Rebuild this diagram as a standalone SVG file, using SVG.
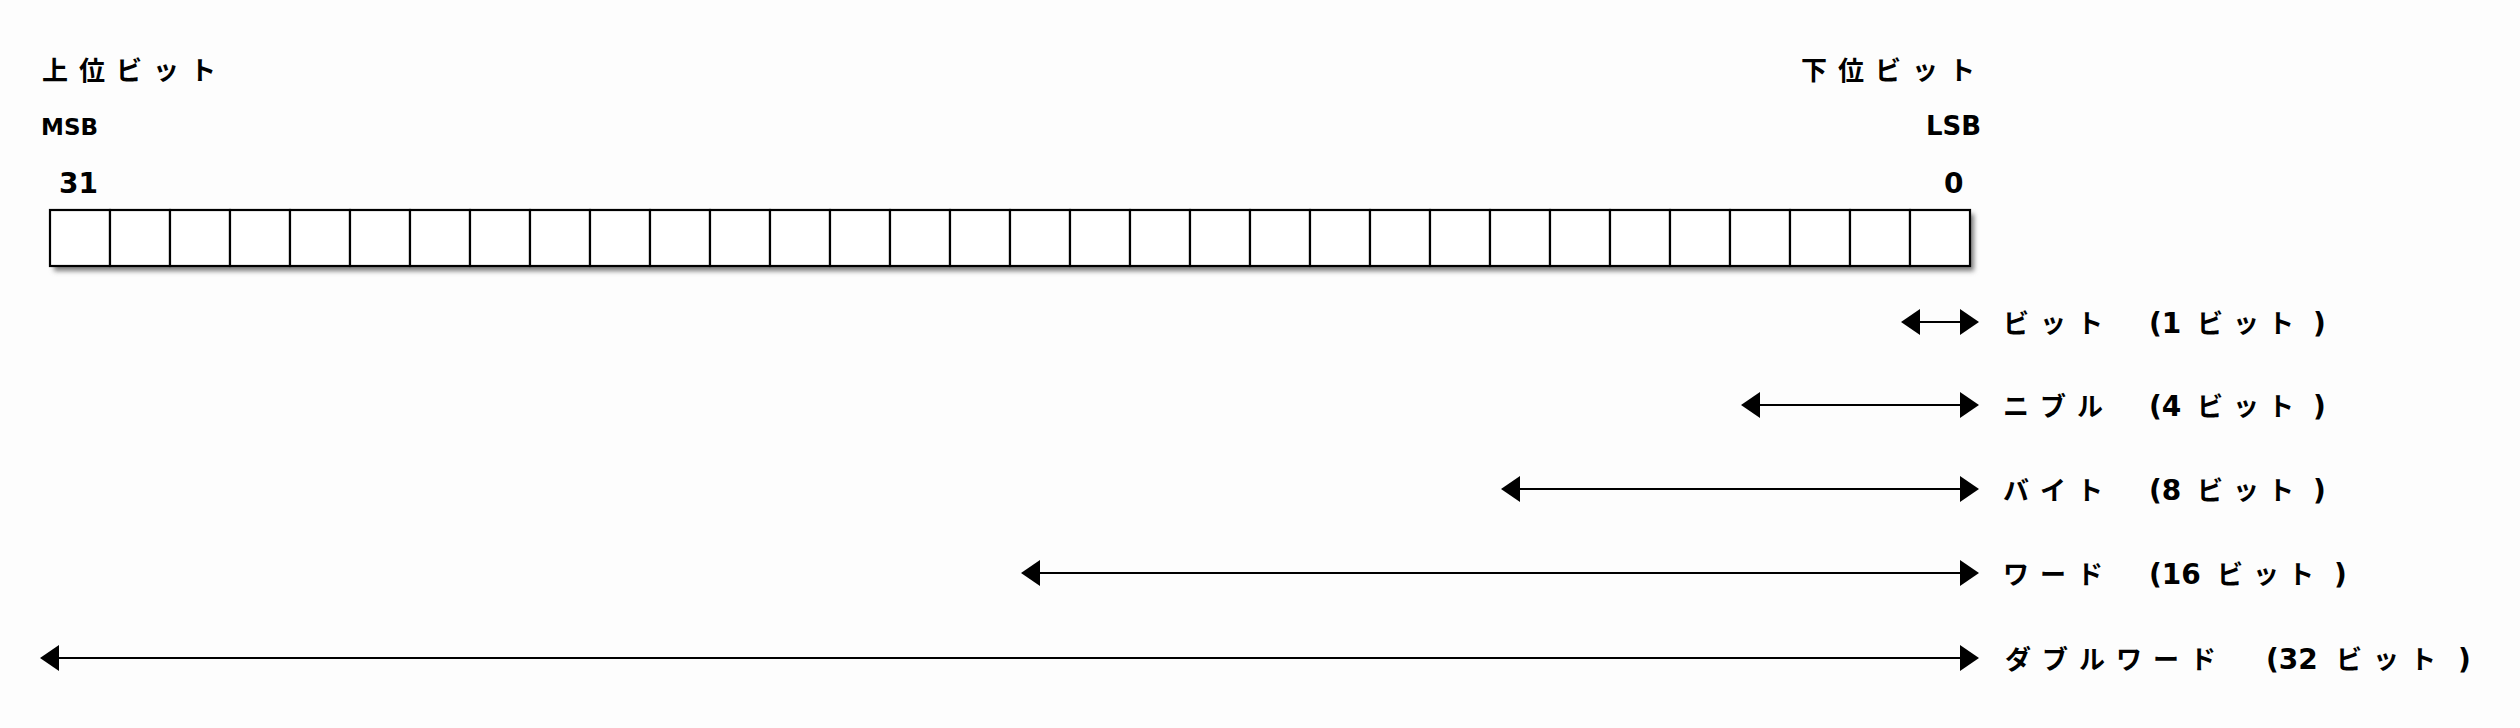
<svg xmlns="http://www.w3.org/2000/svg" width="2520" height="728" viewBox="0 0 2520 728">
<style>
.j { font-family: "Noto Sans CJK JP", sans-serif; font-weight: bold; font-size: 26px; fill: #000; }
.l { font-family: "DejaVu Sans", "Noto Sans CJK JP", sans-serif; font-weight: bold; font-size: 28px; fill: #000; }
.s { font-family: "DejaVu Sans", sans-serif; font-weight: bold; font-size: 23px; fill: #000; }
.cell { fill: #fff; stroke: #000; stroke-width: 2.2; }
.arr { stroke: #000; stroke-width: 2.2; fill: none; marker-start: url(#ah); marker-end: url(#ah); }
</style>
<defs>
<marker id="ah" markerUnits="userSpaceOnUse" markerWidth="20" markerHeight="28" viewBox="0 0 20 28" refX="9" refY="14" orient="auto-start-reverse">
<path d="M0,1 L19,14 L0,27 z" fill="#000"/>
</marker>
<filter id="sh" x="-5%" y="-50%" width="110%" height="200%">
<feGaussianBlur stdDeviation="2.5"/>
</filter>
</defs>
<rect x="0" y="0" width="2520" height="728" fill="#fdfdfd"/>

<g id="msb-label">
<text class="j" x="42" y="80" letter-spacing="11">上位ビット</text>
<text class="s" x="41" y="135">MSB</text>
<text class="l" x="59" y="193">31</text>
</g>

<g id="lsb-label">
<text class="j" x="1801" y="80" letter-spacing="11">下位ビット</text>
<text class="s" x="1981" y="135" text-anchor="end" style="font-size:26px">LSB</text>
<text class="l" x="1944" y="193">0</text>
</g>

<g id="register">
<rect x="54" y="214" width="1920" height="57" fill="#7a7a7a" filter="url(#sh)"/>
<rect class="cell" x="50" y="210" width="60" height="56"/>
<rect class="cell" x="110" y="210" width="60" height="56"/>
<rect class="cell" x="170" y="210" width="60" height="56"/>
<rect class="cell" x="230" y="210" width="60" height="56"/>
<rect class="cell" x="290" y="210" width="60" height="56"/>
<rect class="cell" x="350" y="210" width="60" height="56"/>
<rect class="cell" x="410" y="210" width="60" height="56"/>
<rect class="cell" x="470" y="210" width="60" height="56"/>
<rect class="cell" x="530" y="210" width="60" height="56"/>
<rect class="cell" x="590" y="210" width="60" height="56"/>
<rect class="cell" x="650" y="210" width="60" height="56"/>
<rect class="cell" x="710" y="210" width="60" height="56"/>
<rect class="cell" x="770" y="210" width="60" height="56"/>
<rect class="cell" x="830" y="210" width="60" height="56"/>
<rect class="cell" x="890" y="210" width="60" height="56"/>
<rect class="cell" x="950" y="210" width="60" height="56"/>
<rect class="cell" x="1010" y="210" width="60" height="56"/>
<rect class="cell" x="1070" y="210" width="60" height="56"/>
<rect class="cell" x="1130" y="210" width="60" height="56"/>
<rect class="cell" x="1190" y="210" width="60" height="56"/>
<rect class="cell" x="1250" y="210" width="60" height="56"/>
<rect class="cell" x="1310" y="210" width="60" height="56"/>
<rect class="cell" x="1370" y="210" width="60" height="56"/>
<rect class="cell" x="1430" y="210" width="60" height="56"/>
<rect class="cell" x="1490" y="210" width="60" height="56"/>
<rect class="cell" x="1550" y="210" width="60" height="56"/>
<rect class="cell" x="1610" y="210" width="60" height="56"/>
<rect class="cell" x="1670" y="210" width="60" height="56"/>
<rect class="cell" x="1730" y="210" width="60" height="56"/>
<rect class="cell" x="1790" y="210" width="60" height="56"/>
<rect class="cell" x="1850" y="210" width="60" height="56"/>
<rect class="cell" x="1910" y="210" width="60" height="56"/>
</g>

<g id="connectors">
<line class="arr" x1="1911" y1="322" x2="1969" y2="322"/>
<line class="arr" x1="1751" y1="405" x2="1969" y2="405"/>
<line class="arr" x1="1511" y1="489" x2="1969" y2="489"/>
<line class="arr" x1="1031" y1="573" x2="1969" y2="573"/>
<line class="arr" x1="50" y1="658" x2="1969" y2="658"/>
</g>

<g id="bit">
<text class="j" x="2003" y="333" letter-spacing="11">ビット</text>
<text class="l" y="333"><tspan x="2149">(1</tspan><tspan class="j" x="2197 2233 2268">ビット</tspan><tspan x="2313">)</tspan></text>
</g>
<g id="nibble">
<text class="j" x="2003" y="416" letter-spacing="11">ニブル</text>
<text class="l" y="416"><tspan x="2149">(4</tspan><tspan class="j" x="2197 2233 2268">ビット</tspan><tspan x="2313">)</tspan></text>
</g>
<g id="byte">
<text class="j" x="2003" y="500" letter-spacing="11">バイト</text>
<text class="l" y="500"><tspan x="2149">(8</tspan><tspan class="j" x="2197 2233 2268">ビット</tspan><tspan x="2313">)</tspan></text>
</g>
<g id="word">
<text class="j" x="2003" y="584" letter-spacing="11">ワード</text>
<text class="l" y="584"><tspan x="2149">(16</tspan><tspan class="j" x="2217 2253 2288">ビット</tspan><tspan x="2334">)</tspan></text>
</g>
<g id="dword">
<text class="j" x="2005" y="669" letter-spacing="11">ダブルワード</text>
<text class="l" y="669"><tspan x="2266">(32</tspan><tspan class="j" x="2336 2373 2410">ビット</tspan><tspan x="2458">)</tspan></text>
</g>
</svg>
